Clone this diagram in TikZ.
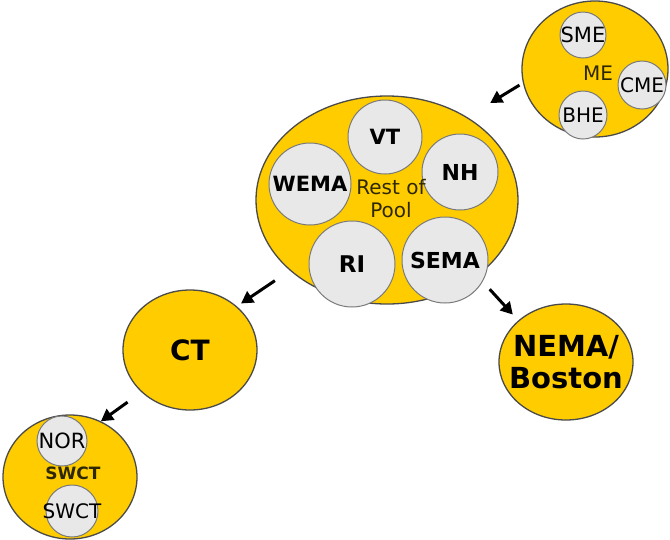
\documentclass[tikz,border=0pt]{standalone}
\usepackage{fontspec}
\setmainfont{DejaVu Sans}
\usetikzlibrary{shapes.geometric,arrows.meta}
\definecolor{gold}{HTML}{FFCC00}
\definecolor{rim}{HTML}{4A4A4A}
\definecolor{pale}{HTML}{E8E8E8}
\definecolor{palerim}{HTML}{7A7A7A}
\definecolor{ink}{HTML}{2E2800}
\tikzset{
  region/.style={ellipse, draw=rim, fill=gold, line width=1.3pt, inner sep=0pt},
  member/.style={circle, draw=palerim, fill=pale, line width=1pt, inner sep=0pt},
  flow/.style={line width=3pt, -{Triangle[length=12pt,width=13pt]}},
  fs/.style={inner sep=0pt, font=\fontsize{#1}{#1}\selectfont},
  fsb/.style={inner sep=0pt, font=\fontsize{#1}{#1}\selectfont\bfseries}
}
\begin{document}
\begin{tikzpicture}[x=1pt,y=-1pt]
\useasboundingbox (0,0) rectangle (670,539);

% Maine
\node[region, minimum width=146pt, minimum height=136pt] (me) at (595,69) {};
\node[member, minimum size=46pt] (sme) at (583,35) {};
\node[member, minimum size=48pt] (cme) at (642,85) {};
\node[member, minimum size=48pt] (bhe) at (583,115) {};
\node[fs=20, text=ink] (melbl) at (598,73) {ME};
\node[fs=21] at (sme) {SME};
\node[fs=20] at (cme) {CME};
\node[fs=20] at (bhe) {BHE};

% Rest of pool
\node[region, minimum width=262pt, minimum height=208pt] (pool) at (387,200) {};
\node[member, minimum size=74pt] (vt) at (385,137) {};
\node[member, minimum size=76pt] (nh) at (460,172) {};
\node[member, minimum size=82pt] (wema) at (310,184) {};
\node[member, minimum size=86pt] (ri) at (352,264) {};
\node[member, minimum size=86pt] (sema) at (445,260) {};
\node[fs=20, text=ink, align=center] (poollbl) at (391,199)
  {Rest of\\[3pt]Pool};
\node[fsb=21] at (vt) {VT};
\node[fsb=22] at (nh) {NH};
\node[fsb=21] at (wema) {WEMA};
\node[fsb=23] at (ri) {RI};
\node[fsb=22] at (sema) {SEMA};

% Connecticut
\node[region, minimum width=134pt, minimum height=120pt] (ct) at (190,350) {};
\node[fsb=28] at (ct) {CT};

% Northeast Massachusetts / Boston
\node[region, minimum width=134pt, minimum height=116pt] (nema) at (566,362) {};
\node[fsb=29, align=center] at (nema) {NEMA/\\[3pt]Boston};

% Southwest Connecticut
\node[region, minimum width=134pt, minimum height=124pt] (swct) at (70,477) {};
\node[member, minimum size=50pt] (nor) at (62,441) {};
\node[member, minimum size=52pt] (swcti) at (72,511) {};
\node[fsb=17, text=ink] (swctlbl) at (73,473) {SWCT};
\node[fs=21] at (nor) {NOR};
\node[fs=20] at (swcti) {SWCT};

% transfers between areas
\draw[flow, shorten >=27pt, shorten <=4pt] (me.191) -- (pool.46);
\draw[flow, shorten <=18pt, shorten >=5pt] (pool.216) -- (ct.43);
\draw[flow, shorten <=18pt, shorten >=8pt] (pool.320) -- (nema.139);
\draw[flow, shorten <=17pt, shorten >=0pt] (ct.221) -- (swct.61);
\end{tikzpicture}
\end{document}
